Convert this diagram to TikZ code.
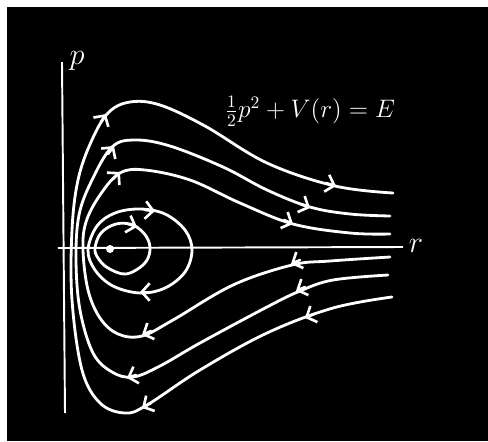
\documentclass[tikz,border=0pt]{standalone}
\usetikzlibrary{arrows.meta}
\tikzset{
  orbit/.style={white, line width=1.6pt, line cap=round, line join=round},
  axis/.style={white, line width=1.1pt},
  flowtip/.style={white, line width=1.5pt, line cap=round,
    -{Straight Barb[length=4.5pt, width=10pt]}},
  lbl/.style={text=white, inner sep=0pt}
}
\begin{document}
\begin{tikzpicture}[x=0.02cm, y=-0.02cm, font=\LARGE]
  \useasboundingbox (0,0) rectangle (488,441);
  \fill[white] (0,0) rectangle (488,441);
  \fill[black] (7,7) rectangle (488,441);
  % axes
  \coordinate (ptop) at (62,62);
  \coordinate (pbot) at (65,413);
  \coordinate (rleft) at (58,248);
  \coordinate (rright) at (403,247);
  \draw[axis] (pbot) -- (ptop);
  \draw[axis] (rleft) -- (rright);
  \node[lbl] (plabel) at (77,61) {$p$};
  \node[lbl] (rlabel) at (416,246) {$r$};
  \node[lbl, font=\Large] (energy) at (310,111) {$\frac12p^2+V(r)=E$};
  % fixed point
  \fill[white] (110,249) circle (4);
  % closed orbits
  \draw[orbit] plot[smooth cycle, tension=0.6] coordinates {(88,250) (97,226) (115,213) (140,209) (165,214) (185,230) (192,250) (185,272) (165,288) (140,293) (113,286) (95,270)};
  \draw[orbit] plot[smooth cycle, tension=0.6] coordinates {(95,248) (101,233) (116,224) (133,225) (146,236) (150,250) (144,264) (126,274) (108,268) (98,258)};
  % open orbits
  \draw[orbit] plot[smooth, tension=0.6] coordinates {(392,297) (333,308) (267,333) (200,370) (147,405) (125,413) (100,403) (82,370) (72,300) (72,230) (78,180) (91,142) (108,113) (130,102) (160,105) (205,126) (267,163) (335,186) (393,193)};
  \draw[orbit] plot[smooth, tension=0.6] coordinates {(388,275) (333,280) (300,291) (267,307) (200,343) (160,366) (133,377) (112,372) (93,353) (80,310) (76,260) (79,215) (92,180) (112,147) (135,140) (170,146) (223,167) (267,190) (310,207) (350,214) (390,216)};
  \draw[orbit] plot[smooth, tension=0.6] coordinates {(390,257) (330,261) (292,265) (233,285) (173,320) (142,336) (118,334) (100,318) (88,290) (83,250) (86,222) (100,195) (120,173) (145,170) (190,180) (240,203) (293,224) (350,233) (390,234)};
  % flow direction
  \foreach \ax/\ay/\bx/\by in {314/314/305/318, 151/403/142/408, 101/122/106/114, 326/183/336/186,
      305/287/296/291, 136/375/127/378, 108/154/114/146, 301/204/310/208,
      300/260/291/264, 151/331/142/335, 113/179/120/172, 284/220/293/224,
      145/210/155/211, 150/292/140/292, 128/224/137/227}
    \draw[flowtip] (\ax,\ay) -- (\bx,\by);
\end{tikzpicture}
\end{document}
